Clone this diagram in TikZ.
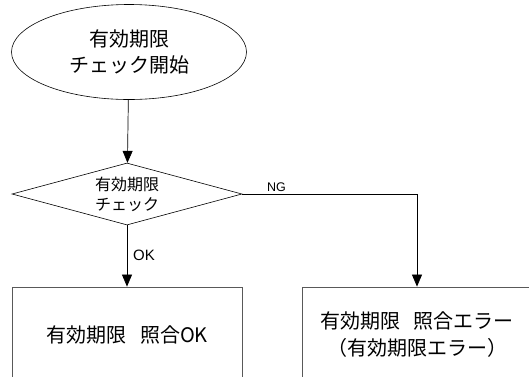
\documentclass[tikz,border=0pt]{standalone}
\usepackage{fontspec}
\usetikzlibrary{shapes.geometric,arrows.meta,positioning}
\newfontfamily\jpfont{Noto Sans CJK JP}
\newfontfamily\latfont{Liberation Sans}

\def\boxw{230}
\def\boxh{96}

\tikzset{
  flow/.style={line width=0.7pt, -{Triangle[width=10pt,length=12pt]}},
  startnode/.style={ellipse, draw, line width=0.6pt, minimum width=235pt, minimum height=95pt,
    align=center, font=\jpfont\fontsize{20}{26}\selectfont},
  checknode/.style={diamond, draw, line width=0.6pt, aspect=3.7, inner sep=0pt,
    minimum width=230pt, minimum height=62pt, align=center, font=\jpfont\fontsize{16}{20}\selectfont},
  resultbox/.style={rectangle, draw=black!65, line width=0.8pt, minimum width=\boxw pt,
    minimum height=\boxh pt, align=center, font=\jpfont\fontsize{20}{27}\selectfont},
  branchlabel/.style={inner sep=0pt, font=\latfont}
}

\begin{document}
\begin{tikzpicture}[x=1pt,y=-1pt]
  \clip (0,0) rectangle (529,376);
  \useasboundingbox (0,0) rectangle (529,376);

  \node[startnode] (start) at (129,52) {有効期限\\チェック開始};
  \node[checknode] (check) at (127,194) {有効期限\\チェック};
  \node[resultbox] (okbox) at (127,335) {有効期限\hspace{0.7em}照合OK};
  \node[resultbox] (ngbox) at (417,335) {有効期限\hspace{0.7em}照合エラー\\（有効期限エラー）};

  \coordinate (ngturn) at (ngbox.north |- check.east);

  \draw[flow] (start) -- (check);
  \draw[flow] (check) -- (okbox);
  \draw[flow] (check.east) -- (ngturn) -- (ngbox);

  \node[branchlabel, font=\latfont\fontsize{15}{18}\selectfont, anchor=west] (oklabel) at (133,255) {OK};
  \node[branchlabel, font=\latfont\fontsize{12.5}{15}\selectfont, anchor=south west] (nglabel) at (267,192) {NG};
\end{tikzpicture}
\end{document}
